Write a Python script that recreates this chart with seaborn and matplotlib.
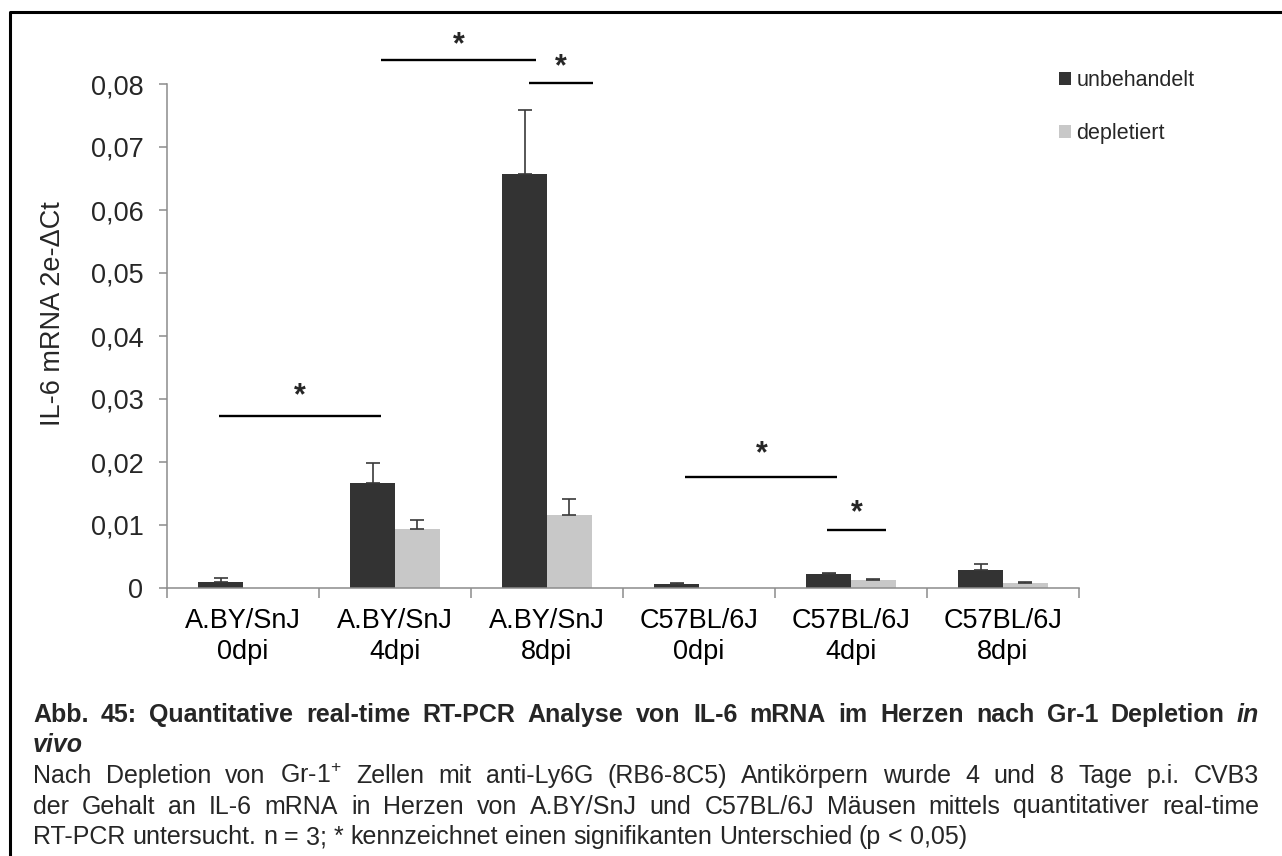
import numpy as np
import pandas as pd
import matplotlib
matplotlib.use("Agg")
import matplotlib.pyplot as plt
import seaborn as sns
from matplotlib.lines import Line2D

# ---- data -------------------------------------------------------------
groups = ["A.BY/SnJ\n0dpi", "A.BY/SnJ\n4dpi", "A.BY/SnJ\n8dpi",
          "C57BL/6J\n0dpi", "C57BL/6J\n4dpi", "C57BL/6J\n8dpi"]
series = ["unbehandelt", "depletiert"]
untreated = [0.0010, 0.0166, 0.0657, 0.0006, 0.0022, 0.0029]
untreated_err = [0.0006, 0.0033, 0.0102, 0.0002, 0.0002, 0.0009]
depleted = [0.0, 0.0094, 0.0116, 0.0, 0.0012, 0.00085]
depleted_err = [0.0, 0.0014, 0.0026, 0.0, 0.0002, 0.00015]
y_ticks = [0, 0.01, 0.02, 0.03, 0.04, 0.05, 0.06, 0.07, 0.08]
y_tick_labels = ["0", "0,01", "0,02", "0,03", "0,04", "0,05", "0,06", "0,07", "0,08"]
y_label = "IL-6 mRNA 2e-ΔCt"

# significance brackets: (start, end) on the category axis, height of the bar line
sig_x0 = [-0.16, 0.91, 1.88, 2.91, 3.84]
sig_x1 = [0.91, 1.93, 2.30, 3.91, 4.23]
sig_y = [0.0273, 0.0838, 0.0802, 0.0176, 0.0092]
sig_star_y = [0.0304, 0.0862, 0.0826, 0.0212, 0.0118]

caption_title = ("Abb. 45: Quantitative real-time RT-PCR Analyse von IL-6 mRNA "
                 "im Herzen nach Gr-1 Depletion")
caption_body = [
    "Nach Depletion von Gr-1$^{+}$ Zellen mit anti-Ly6G (RB6-8C5) Antikörpern wurde 4 und 8 Tage p.i. CVB3",
    "der Gehalt an IL-6 mRNA in Herzen von A.BY/SnJ und C57BL/6J Mäusen mittels quantitativer real-time",
    "RT-PCR untersucht. n = 3; * kennzeichnet einen signifikanten Unterschied (p < 0,05)",
]

# ---- style ------------------------------------------------------------
sns.set_style("white")
plt.rcParams["font.family"] = ["Liberation Sans", "DejaVu Sans"]
plt.rcParams["mathtext.fontset"] = "custom"
plt.rcParams["mathtext.rm"] = "Liberation Sans"
plt.rcParams["mathtext.it"] = "Liberation Sans:italic"
plt.rcParams["mathtext.bf"] = "Liberation Sans:bold"

DARK = "#333333"
LIGHT = "#c8c8c8"
AXIS_GREY = "#8c8c8c"

W, H = 1282, 856
fig = plt.figure(figsize=(W / 100, H / 100), dpi=100)
# axes box in pixel terms: left 167, right 1079, top 84, bottom 588
ax = fig.add_axes([167 / W, 1 - 588 / H, (1079 - 167) / W, (588 - 84) / H])

df = pd.DataFrame({
    "group": groups * 2,
    "series": [series[0]] * len(groups) + [series[1]] * len(groups),
    "value": untreated + depleted,
})

sns.barplot(data=df, x="group", y="value", hue="series", order=groups,
            hue_order=series, palette=[DARK, LIGHT], saturation=1,
            width=0.59, errorbar=None, linewidth=0, ax=ax)

# upper-only error bars at the bar centres
for cont, errs in zip(ax.containers, [untreated_err, depleted_err]):
    xs, ys, es = [], [], []
    for patch, e in zip(cont.patches, errs):
        if e <= 0:
            continue
        xs.append(patch.get_x() + patch.get_width() / 2)
        ys.append(patch.get_height())
        es.append(e)
    ax.errorbar(xs, ys, yerr=[np.zeros(len(es)), es], fmt="none",
                ecolor="#3a3a3a", elinewidth=1.2, capsize=5, capthick=1.2,
                zorder=3)

TICK_SIZE = 19.5
ax.set_xlim(-0.5, len(groups) - 0.5)
ax.set_ylim(0, 0.08)
ax.set_yticks(y_ticks, y_tick_labels)
ax.set_xticks(range(len(groups)), groups)
ax.set_xticks(np.arange(-0.5, len(groups)), minor=True)
ax.tick_params(axis="x", which="major", length=0, pad=14.5, labelsize=TICK_SIZE,
               colors="black")
ax.tick_params(axis="x", which="minor", length=7, width=1.1,
               color=AXIS_GREY, direction="out", bottom=True)
ax.tick_params(axis="y", length=6, width=1.1, color=AXIS_GREY, pad=11,
               labelsize=TICK_SIZE, left=True)
for lbl in ax.get_xticklabels():
    lbl.set_linespacing(1.22)
ax.set_xlabel("")
ax.set_ylabel(y_label, fontsize=TICK_SIZE)
ax.yaxis.set_label_coords(-0.111, 0.544)
for side in ["top", "right"]:
    ax.spines[side].set_visible(False)
for side in ["left", "bottom"]:
    ax.spines[side].set_color(AXIS_GREY)
    ax.spines[side].set_linewidth(1.1)

# significance markers
for x0, x1, y, sy in zip(sig_x0, sig_x1, sig_y, sig_star_y):
    ax.plot([x0, x1], [y, y], color="black", lw=1.7, clip_on=False,
            solid_capstyle="butt", zorder=4)
    ax.text((x0 + x1) / 2, sy, "*", ha="center", va="center", fontsize=22,
            fontweight="bold", clip_on=False)

# legend
handles, labels = ax.get_legend_handles_labels()
if ax.get_legend() is not None:
    ax.get_legend().remove()
fig.legend(handles, labels, loc="upper left",
           bbox_to_anchor=(1059 / W, 1 - 70 / H), frameon=False,
           fontsize=15.5, handlelength=0.55, handleheight=0.55,
           handletextpad=0.25, labelspacing=1.5, borderaxespad=0,
           borderpad=0)

# frame around the figure
fig.add_artist(Line2D([10 / W, 10 / W, 1.02], [-0.02, 1 - 11.5 / H, 1 - 11.5 / H],
                      transform=fig.transFigure, color="black", lw=2.2))

# caption, justified between the two margins
renderer = fig.canvas.get_renderer()
CAP_SIZE = 18
LEFT, RIGHT = 33, 1259


def place_line(words, baseline, justify=True):
    """words: list of (text, weight, style)."""
    items = []
    for w, weight, style in words:
        t = fig.text(0, 0, w, fontsize=CAP_SIZE, fontweight=weight,
                     fontstyle=style, va="baseline", ha="left",
                     transform=fig.transFigure)
        items.append((t, t.get_window_extent(renderer).width))
    total = sum(wd for _, wd in items)
    if justify and len(items) > 1:
        gap = (RIGHT - LEFT - total) / (len(items) - 1)
    else:
        gap = 0.278 * CAP_SIZE * 100 / 72
    x = LEFT
    for t, wd in items:
        t.set_position((x / W, 1 - baseline / H))
        x += wd + gap


title_words = [(w, "bold", "normal") for w in caption_title.split(" ")]
title_words.append(("in", "bold", "italic"))
place_line(title_words, 722)
place_line([("vivo", "bold", "italic")], 752, justify=False)
for i, line in enumerate(caption_body):
    words = [(w, "normal", "normal") for w in line.split(" ")]
    place_line(words, 783 + i * 30.5, justify=(i < len(caption_body) - 1))

fig.savefig("out.png", dpi=100)
